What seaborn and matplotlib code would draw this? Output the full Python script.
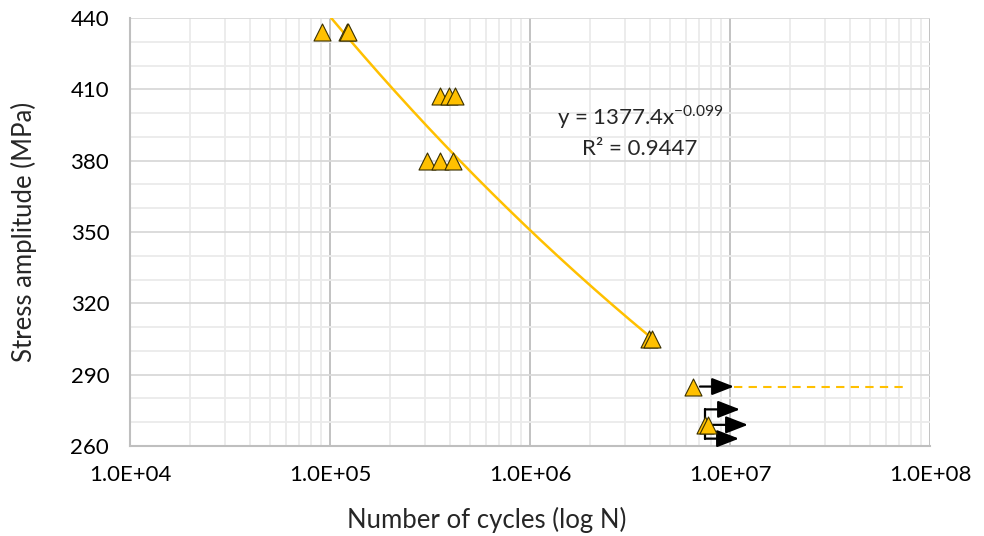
import numpy as np
import pandas as pd
import matplotlib
matplotlib.use("Agg")
import matplotlib.pyplot as plt
import seaborn as sns
from matplotlib.ticker import FixedLocator, LogLocator, MultipleLocator, FuncFormatter

# ---- data ----
cycles_failed = [91000, 121000, 123000, 355000, 393000, 422000, 305000, 355000, 412000, 3.94e6, 4.08e6]
stress_failed = [434, 434, 434, 407, 407, 407, 380, 380, 380, 305, 305]
cycles_runout = [6.5e6, 7.5e6, 7.8e6]
stress_runout = [285, 269, 269]
fit_coef = 1377.4
fit_exp = -0.099
fit_r2 = 0.9447
fit_range = [101400, 4.08e6]
runout_limit = [1.047e7, 7.5e7]
runout_limit_stress = 285
x_ticks = [1e4, 1e5, 1e6, 1e7, 1e8]
x_tick_labels = ["1.0E+04", "1.0E+05", "1.0E+06", "1.0E+07", "1.0E+08"]
y_ticks = [260, 290, 320, 350, 380, 410, 440]

GOLD = "#FFC000"
FONT = "Lato"

sns.set_theme(style="white")
plt.rcParams["font.family"] = [FONT, "DejaVu Sans"]
plt.rcParams["mathtext.fontset"] = "custom"
plt.rcParams["mathtext.rm"] = FONT

fig = plt.figure(figsize=(9.84, 5.36), dpi=100)
ax = fig.add_axes([130 / 984, 90 / 536, 800 / 984, 428 / 536])

# fit line
xf = np.logspace(np.log10(fit_range[0]), np.log10(fit_range[1]), 200)
fit_df = pd.DataFrame({"N": xf, "S": fit_coef * xf ** fit_exp})
sns.lineplot(data=fit_df, x="N", y="S", color=GOLD, lw=1.8, ax=ax, zorder=3)

# run-out limit dashed
ax.plot(runout_limit, [runout_limit_stress] * 2, color=GOLD, lw=1.5, ls=(0, (4, 3)), zorder=3)

# arrows (run-outs)
arrow_kw = dict(arrowstyle="-|>,head_length=0.9,head_width=0.35", color="black", lw=1.6,
                shrinkA=0, shrinkB=0, mutation_scale=15)
ax.annotate("", xy=(1.047e7, 285), xytext=(7.08e6, 285), arrowprops=arrow_kw, zorder=4)
bx = 7.5e6
ax.plot([bx, bx], [263.1, 275.4], color="black", lw=1.6, zorder=4)
ax.annotate("", xy=(1.122e7, 275.4), xytext=(bx, 275.4), arrowprops=arrow_kw, zorder=4)
ax.annotate("", xy=(1.23e7, 268.9), xytext=(8.2e6, 268.9), arrowprops=arrow_kw, zorder=4)
ax.annotate("", xy=(1.109e7, 263.1), xytext=(bx, 263.1), arrowprops=arrow_kw, zorder=4)

# markers
pts = pd.DataFrame({"N": cycles_failed + cycles_runout, "S": stress_failed + stress_runout})
sns.scatterplot(data=pts, x="N", y="S", marker="^", s=150, color=GOLD,
                edgecolor="#3A3000", linewidth=0.8, ax=ax, zorder=5)

ax.set_xscale("log")
ax.set_xlim(1e4, 1e8)
ax.set_ylim(260, 440)

ax.xaxis.set_major_locator(FixedLocator(x_ticks))
ax.xaxis.set_major_formatter(FuncFormatter(lambda v, p: x_tick_labels[x_ticks.index(v)] if v in x_ticks else ""))
ax.xaxis.set_minor_locator(LogLocator(base=10, subs=np.arange(2, 10)))
ax.xaxis.set_minor_formatter(FuncFormatter(lambda v, p: ""))
ax.yaxis.set_major_locator(FixedLocator(y_ticks))
ax.yaxis.set_minor_locator(MultipleLocator(10))

ax.grid(True, which="major", axis="x", color="#BDBDBD", lw=1.3, zorder=0)
ax.grid(True, which="minor", axis="x", color="#EBEBEB", lw=1.3, zorder=0)
ax.grid(True, which="major", axis="y", color="#D9D9D9", lw=1.3, zorder=0)
ax.grid(True, which="minor", axis="y", color="#EBEBEB", lw=1.3, zorder=0)
ax.set_axisbelow(True)

for side in ["top", "right"]:
    ax.spines[side].set_visible(False)
for side in ["left", "bottom"]:
    ax.spines[side].set_color("#BFBFBF")
    ax.spines[side].set_linewidth(1.5)

ax.tick_params(axis="both", which="both", length=0, labelsize=16, colors="black")
ax.tick_params(axis="x", pad=14)
ax.tick_params(axis="y", pad=15)

ax.set_xlabel("Number of cycles (log N)", fontsize=18.5)
ax.xaxis.set_label_coords(0.446, -0.142)
ax.set_ylabel("Stress amplitude (MPa)", fontsize=18.5, labelpad=24)

ax.text(3.55e6, 398.3, r"y = 1377.4x$^{\mathregular{-0.099}}$", ha="center", va="center", fontsize=16)
ax.text(3.55e6, 384.9, "R² = 0.9447", ha="center", va="center", fontsize=16)

fig.savefig("out.png", dpi=100)
